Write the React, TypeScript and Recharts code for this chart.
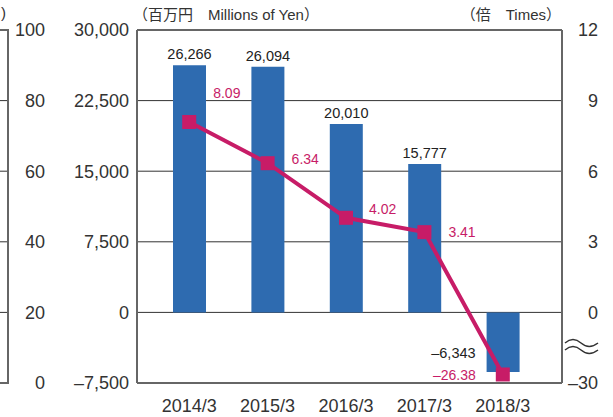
import React from "react";
import {
    ComposedChart,
    Bar,
    Line,
    XAxis,
    YAxis,
    CartesianGrid,
    LabelList,
    ReferenceLine,
} from "recharts";

// data
const years = ["2014/3", "2015/3", "2016/3", "2017/3", "2018/3"];
const profit = [26266, 26094, 20010, 15777, -6343];
const ratio = [8.09, 6.34, 4.02, 3.41, -26.38];

const yenTicks = [-7500, 0, 7500, 15000, 22500, 30000];
const timesTicks = [-30, 0, 3, 6, 9, 12];
// axis of the neighbouring chart, cut off at the left edge (same tick rows)
const sideTicks = [0, 20, 40, 60, 80, 100];

const BLUE = "#2E6BB0";
const MAGENTA = "#C71C67";
const FONT = '"Liberation Sans", Arial, "Noto Sans CJK JP", sans-serif';

// right axis is broken below zero: 0..-30 is squeezed into one 3-step
const toPlot = (v: number) => (v < 0 ? v / 10 : v);
const fromPlot = (v: number) => (v < 0 ? v * 10 : v);

const rows = years.map((year, i) => ({
    year,
    profit: profit[i],
    ratio: ratio[i],
    ratioPlot: toPlot(ratio[i]),
}));

const dash = (s: string) => s.replace("-", "–");
const fmtYen = (v: number) => dash(v.toLocaleString("en-US"));
const fmtTimes = (v: number) => dash(v.toFixed(2));

const lineLabelPos = [
    { dx: 24, dy: -29, anchor: "start" },
    { dx: 24, dy: -4, anchor: "start" },
    { dx: 23, dy: -9, anchor: "start" },
    { dx: 24, dy: 0, anchor: "start" },
    { dx: -27, dy: 1, anchor: "end" },
];

// left tick also carries the cut-off neighbour: its short gridline and label
const LeftTick = ({ x, y, payload, index }: any) => {
    const edge = index === 0 || index === sideTicks.length - 1;
    return (
        <g>
            <line x1={0} x2={9} y1={y} y2={y} stroke={edge ? "#666" : "#333"} strokeWidth={edge ? 2 : 1} />
            <text x={45} y={y} dy="0.36em" textAnchor="end" fontSize={18} fill="#333" fontFamily={FONT}>
                {sideTicks[index]}
            </text>
            <text x={x} y={y} dy="0.36em" textAnchor="end" fontSize={18} fill="#333" fontFamily={FONT}>
                {fmtYen(payload.value)}
            </text>
        </g>
    );
};

const RightTick = ({ x, y, payload }: any) => (
    <text x={x + 28} y={y} dy="0.36em" textAnchor="end" fontSize={18} fill="#333" fontFamily={FONT}>
        {dash(String(fromPlot(payload.value)))}
    </text>
);

const BarLabel = (props: any) => {
    const { x, y, width, height, value } = props;
    const top = Math.min(y, y + height);
    const bottom = Math.max(y, y + height);
    if (value < 0) {
        return (
            <text x={x - 11} y={bottom - 14} textAnchor="end" fontSize={14.5} fill="#222" fontFamily={FONT}>
                {fmtYen(value)}
            </text>
        );
    }
    return (
        <text x={x + width / 2} y={top - 6} textAnchor="middle" fontSize={14.5} fill="#222" fontFamily={FONT}>
            {fmtYen(value)}
        </text>
    );
};

const LineLabel = (props: any) => {
    const { x, y, value, index } = props;
    const p = lineLabelPos[index];
    return (
        <text x={x + p.dx} y={y + p.dy + 5} textAnchor={p.anchor as any} fontSize={14} fill={MAGENTA} fontFamily={FONT}>
            {fmtTimes(value)}
        </text>
    );
};

const SquareDot = (props: any) => {
    const { cx, cy, index } = props;
    return <rect key={"dot" + index} x={cx - 7} y={cy - 7} width={14} height={14} fill={MAGENTA} />;
};

export default function App() {
    return (
        <div style={{ position: "absolute", left: 0, top: 0, width: 613, height: 417, background: "#fff", fontFamily: FONT, overflow: "hidden" }}>
            <div style={{ position: "absolute", left: 0, top: 0 }}>
                <ComposedChart width={613} height={417} data={rows}
                    margin={{ top: 30, right: 0, bottom: 0, left: 0 }}>
                    <CartesianGrid vertical={false} stroke="#333" yAxisId="yen" />
                    <XAxis dataKey="year" height={34} padding={{ left: 13, right: 20 }} interval={0}
                        axisLine={{ stroke: "#666", strokeWidth: 2 }} tickLine={false} tickMargin={10}
                        tick={{ fontSize: 18, fill: "#333", fontFamily: FONT }} />
                    <YAxis yAxisId="yen" width={137} domain={[-7500, 30000]} ticks={yenTicks}
                        axisLine={{ stroke: "#666", strokeWidth: 2 }} tickLine={false} tick={<LeftTick />} />
                    <YAxis yAxisId="times" orientation="right" width={51} domain={[-3, 12]}
                        ticks={timesTicks.map(toPlot)}
                        axisLine={{ stroke: "#666", strokeWidth: 2 }} tickLine={false} tick={<RightTick />} />
                    <ReferenceLine yAxisId="yen" y={30000} stroke="#666" strokeWidth={2} />

                    <Bar yAxisId="yen" dataKey="profit" fill={BLUE} barSize={33} isAnimationActive={false}>
                        <LabelList dataKey="profit" content={BarLabel} />
                    </Bar>
                    <Line yAxisId="times" dataKey="ratioPlot" stroke={MAGENTA} strokeWidth={4}
                        dot={SquareDot} activeDot={false} isAnimationActive={false}>
                        <LabelList dataKey="ratio" content={LineLabel} />
                    </Line>
                </ComposedChart>
            </div>

            {/* vertical border of the cut-off neighbour */}
            <div style={{ position: "absolute", left: 7, top: 29, width: 2, height: 355, background: "#666" }} />

            {/* headers */}
            <div style={{ position: "absolute", left: 1, top: 4, fontSize: 15, color: "#333" }}>)</div>
            <div style={{ position: "absolute", left: 133, top: 3, fontSize: 15, color: "#333", whiteSpace: "nowrap" }}>
                （百万円　Millions of Yen）
            </div>
            <div style={{ position: "absolute", right: 52, top: 3, fontSize: 15, color: "#333", whiteSpace: "nowrap" }}>
                （倍　Times）
            </div>

            {/* axis break mark */}
            <svg style={{ position: "absolute", left: 564, top: 336 }} width={36} height={20}>
                <path d="M1,7 Q9,0 17,7 T34,7" fill="none" stroke="#333" strokeWidth={1.5} />
                <path d="M1,14 Q9,7 17,14 T34,14" fill="none" stroke="#333" strokeWidth={1.5} />
            </svg>
        </div>
    );
}
